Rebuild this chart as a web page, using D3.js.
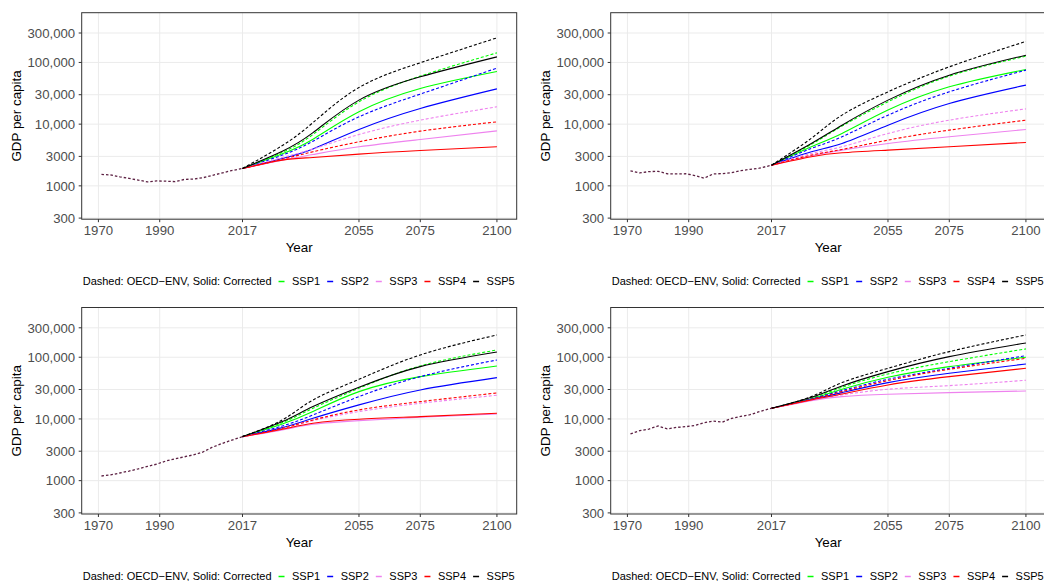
<!DOCTYPE html>
<html>
<head>
<meta charset="utf-8">
<script src="https://cdn.jsdelivr.net/npm/d3@7"></script>
<style>
  body { margin: 0; background: #fff; overflow: hidden; }
  svg { display: block; }
</style>
</head>
<body>
<svg width="1044" height="581"></svg>
<script>
const svg = d3.select('svg');

const ssps = ['SSP1', 'SSP2', 'SSP3', 'SSP4', 'SSP5'];
const sspColors = ['#00ff00', '#0000ff', '#ee82ee', '#ff0000', '#000000'];

const xTicks = [1970, 1990, 2017, 2055, 2075, 2100];
const yTicks = [300, 1000, 3000, 10000, 30000, 100000, 300000];
const yTickLabels = ['300', '1000', '3000', '10,000', '30,000', '100,000', '300,000'];

const histYears = [1971, 1974, 1977, 1980, 1983, 1986, 1989, 1992, 1995, 1998, 2001, 2004, 2007, 2010, 2013, 2017];
const projYears = [2017, 2030, 2040, 2055, 2075, 2100];

// top left
const histA = [1530, 1500, 1400, 1320, 1240, 1160, 1200, 1190, 1170, 1270, 1290, 1350, 1470, 1600, 1750, 1910];
const oecdA = [
  [1910, 3500, 6800, 23000, 60000, 143000],
  [1910, 3150, 5300, 13150, 30700, 80900],
  [1910, 2880, 3960, 6800, 11600, 19100],
  [1910, 2700, 3570, 5180, 7700, 10900],
  [1910, 4500, 10600, 39300, 98900, 250600]
];
const corrA = [
  [1910, 3300, 5700, 15850, 37800, 71400],
  [1910, 2780, 3960, 8200, 17950, 37300],
  [1910, 2610, 3220, 4290, 5640, 7780],
  [1910, 2610, 2880, 3270, 3740, 4290],
  [1910, 3650, 7300, 24500, 58500, 123000]
];

// top right
const histB = [1750, 1620, 1700, 1720, 1570, 1560, 1570, 1470, 1330, 1560, 1580, 1640, 1760, 1850, 1930, 2160];
const oecdB = [
  [2160, 4700, 9300, 23000, 60000, 126500],
  [2160, 4040, 6240, 14000, 33400, 75000],
  [2160, 3350, 4300, 7060, 11600, 17700],
  [2160, 3150, 3890, 5510, 8000, 11600],
  [2160, 5900, 14000, 33400, 84900, 218800]
];
const corrB = [
  [2160, 4300, 7060, 16900, 40300, 76900],
  [2160, 3570, 4860, 9630, 21600, 42900],
  [2160, 3070, 3790, 4860, 6240, 8200],
  [2160, 2960, 3430, 3790, 4300, 5050],
  [2160, 4860, 9630, 24500, 62200, 131200]
];

// bottom left
const histC = [1190, 1240, 1330, 1430, 1550, 1700, 1850, 2080, 2250, 2430, 2620, 2900, 3450, 3950, 4450, 5170];
const oecdC = [
  [5170, 8720, 14900, 31400, 72300, 131200],
  [5170, 7700, 11600, 23000, 48500, 90400],
  [5170, 6970, 9400, 13150, 17950, 24200],
  [5170, 7060, 9630, 14000, 19100, 26400],
  [5170, 9630, 20300, 43900, 108900, 229700]
];
const corrC = [
  [5170, 8300, 13150, 27700, 48500, 72300],
  [5170, 7240, 10250, 16900, 29500, 46700],
  [5170, 6640, 8200, 9400, 10640, 12050],
  [5170, 6800, 8510, 9880, 10900, 12360],
  [5170, 9050, 15850, 32600, 70500, 121800]
];

// bottom right
const histD = [5720, 6450, 6850, 7700, 6900, 7300, 7500, 7800, 8700, 9200, 8900, 10200, 11000, 11700, 13100, 14900];
const oecdD = [
  [14900, 21800, 32600, 53600, 84900, 136500],
  [14900, 21100, 28800, 43900, 66200, 106200],
  [14900, 20300, 24500, 30300, 34700, 42400],
  [14900, 20800, 27700, 41800, 63800, 96100],
  [14900, 23000, 38800, 66200, 123300, 229700]
];
const corrD = [
  [14900, 21300, 30300, 47300, 70500, 99800],
  [14900, 20600, 26700, 38800, 55000, 77800],
  [14900, 19800, 23000, 25100, 26700, 28400],
  [14900, 20300, 25400, 35600, 48500, 66200],
  [14900, 22400, 34300, 58500, 102300, 170600]
];

const panels = [
  { ox: 81.7, oy: 12.7, hist: histA, oecd: oecdA, corr: corrA },
  { ox: 610.7, oy: 12.7, hist: histB, oecd: oecdB, corr: corrB },
  { ox: 81.7, oy: 307.5, hist: histC, oecd: oecdC, corr: corrC },
  { ox: 610.7, oy: 307.5, hist: histD, oecd: oecdD, corr: corrD }
];

const font = 'Liberation Sans, Arial, sans-serif';
const innerWidth = 435;
const innerHeight = 206.5;

const drawPanel = p => {
  // absolute scales per panel
  const xScale = d3.scaleLinear()
    .domain([1964.55, 2106.45])
    .range([p.ox, p.ox + innerWidth]);

  const yScale = d3.scaleLog()
    .domain([288, 640000])
    .range([p.oy + innerHeight, p.oy]);

  const projLine = d3.line()
    .x(d => xScale(d[0]))
    .y(d => yScale(d[1]))
    .curve(d3.curveNatural);

  const histLine = d3.line()
    .x(d => xScale(d[0]))
    .y(d => yScale(d[1]));

  const left = p.ox, right = p.ox + innerWidth;
  const top = p.oy, bottom = p.oy + innerHeight;
  const g = svg.append('g');

  // grid
  g.selectAll('.gy').data(yTicks).enter().append('line')
    .attr('x1', left).attr('x2', right)
    .attr('y1', d => yScale(d)).attr('y2', d => yScale(d))
    .attr('stroke', '#ebebeb').attr('stroke-width', 1);
  g.selectAll('.gx').data(xTicks).enter().append('line')
    .attr('x1', d => xScale(d)).attr('x2', d => xScale(d))
    .attr('y1', top).attr('y2', bottom)
    .attr('stroke', '#ebebeb').attr('stroke-width', 1);

  // projections: dashed OECD-ENV, solid corrected
  ssps.forEach((s, i) => {
    g.append('path')
      .attr('d', projLine(projYears.map((y, j) => [y, p.oecd[i][j]])))
      .attr('fill', 'none')
      .attr('stroke', sspColors[i])
      .attr('stroke-width', 1.1)
      .attr('stroke-dasharray', '3,2');
    g.append('path')
      .attr('d', projLine(projYears.map((y, j) => [y, p.corr[i][j]])))
      .attr('fill', 'none')
      .attr('stroke', sspColors[i])
      .attr('stroke-width', 1.1);
  });

  // history (all scenarios overlap here)
  g.append('path')
    .attr('d', histLine(histYears.map((y, j) => [y, p.hist[j]])))
    .attr('fill', 'none')
    .attr('stroke', '#5c2042')
    .attr('stroke-width', 1.3)
    .attr('stroke-dasharray', '2.5,2');

  // border
  g.append('rect')
    .attr('x', left).attr('y', top)
    .attr('width', innerWidth).attr('height', innerHeight)
    .attr('fill', 'none').attr('stroke', '#333').attr('stroke-width', 1);

  // y ticks
  g.selectAll('.ty').data(yTicks).enter().append('line')
    .attr('x1', left - 3).attr('x2', left)
    .attr('y1', d => yScale(d)).attr('y2', d => yScale(d))
    .attr('stroke', '#333');
  g.selectAll('.ly').data(yTicks).enter().append('text')
    .attr('font-family', font).attr('font-size', 13.2).attr('fill', '#4d4d4d')
    .attr('x', left - 6.5)
    .attr('y', d => yScale(d) + 4.7)
    .attr('text-anchor', 'end')
    .text((d, i) => yTickLabels[i]);

  // x ticks
  g.selectAll('.tx').data(xTicks).enter().append('line')
    .attr('x1', d => xScale(d)).attr('x2', d => xScale(d))
    .attr('y1', bottom).attr('y2', bottom + 3)
    .attr('stroke', '#333');
  g.selectAll('.lx').data(xTicks).enter().append('text')
    .attr('font-family', font).attr('font-size', 13.2).attr('fill', '#4d4d4d')
    .attr('x', d => xScale(d))
    .attr('y', bottom + 16)
    .attr('text-anchor', 'middle')
    .text(d => d);

  // axis titles
  g.append('text')
    .attr('font-family', font).attr('font-size', 13.4).attr('fill', '#000')
    .attr('x', left + innerWidth / 2)
    .attr('y', bottom + 32.5)
    .attr('text-anchor', 'middle')
    .text('Year');
  g.append('text')
    .attr('font-family', font).attr('font-size', 13.4).attr('fill', '#000')
    .attr('transform', `translate(${left - 61},${top + innerHeight / 2}) rotate(-90)`)
    .attr('text-anchor', 'middle')
    .text('GDP per capita');

  // legend
  const ly = Math.round(bottom + 61.5) + 0.5;
  const title = g.append('text')
    .attr('font-family', font).attr('font-size', 11).attr('fill', '#000')
    .attr('x', left + 1).attr('y', ly + 3.9)
    .text('Dashed: OECD\u2212ENV, Solid: Corrected');
  let cx = left + 1 + title.node().getComputedTextLength() + 7;
  ssps.forEach((s, i) => {
    g.append('line')
      .attr('x1', cx).attr('x2', cx + 6)
      .attr('y1', ly).attr('y2', ly)
      .attr('stroke', sspColors[i]).attr('stroke-width', 1.5);
    cx += 13.5;
    const t = g.append('text')
      .attr('font-family', font).attr('font-size', 11).attr('fill', '#000')
      .attr('x', cx).attr('y', ly + 3.9)
      .text(s);
    cx += t.node().getComputedTextLength() + 7;
  });
};

panels.forEach(drawPanel);
</script>
</body>
</html>
